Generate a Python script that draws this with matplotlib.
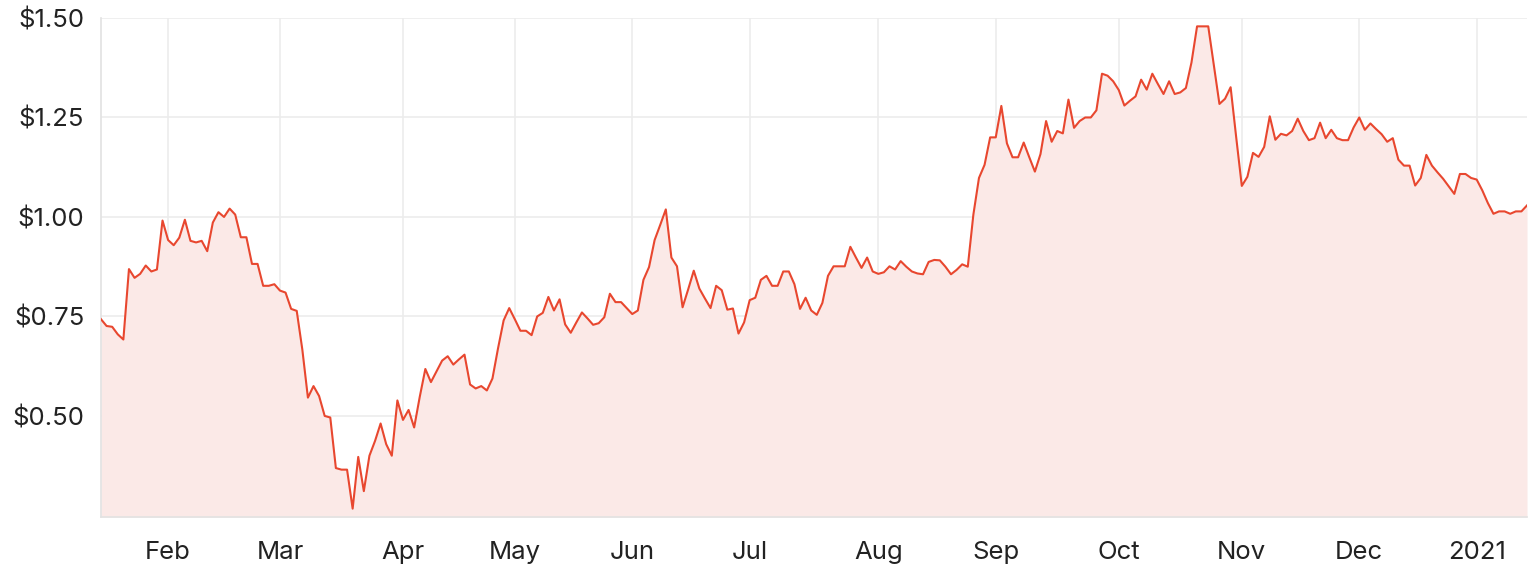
import numpy as np
import pandas as pd
import matplotlib
matplotlib.use("Agg")
import matplotlib.pyplot as plt

# trading days (ASX), 15 Jan 2020 -> 15 Jan 2021
holidays = ["2020-01-27", "2020-04-10", "2020-04-13", "2020-06-08",
            "2020-12-25", "2020-12-28", "2021-01-01"]
dates = pd.bdate_range("2020-01-15", "2021-01-15")
dates = dates[~dates.isin(pd.to_datetime(holidays))]

# closing prices
price = [
    0.743, 0.726, 0.724, 0.705, 0.692, 0.869, 0.847, 0.857, 0.878, 0.863,
    0.868, 0.991, 0.942, 0.929, 0.948, 0.993, 0.940, 0.936, 0.940, 0.914,
    0.986, 1.012, 1.000, 1.021, 1.006, 0.949, 0.949, 0.882, 0.882, 0.827,
    0.827, 0.831, 0.815, 0.810, 0.769, 0.764, 0.667, 0.546, 0.575, 0.550,
    0.500, 0.496, 0.369, 0.365, 0.365, 0.267, 0.397, 0.311, 0.400, 0.437,
    0.481, 0.429, 0.400, 0.539, 0.490, 0.515, 0.471, 0.548, 0.618, 0.585,
    0.612, 0.639, 0.650, 0.629, 0.642, 0.654, 0.579, 0.569, 0.575, 0.564,
    0.594, 0.670, 0.740, 0.771, 0.743, 0.714, 0.714, 0.703, 0.750, 0.759,
    0.799, 0.765, 0.793, 0.730, 0.709, 0.735, 0.760, 0.745, 0.729, 0.733,
    0.748, 0.807, 0.786, 0.786, 0.771, 0.756, 0.765, 0.842, 0.874, 0.942,
    0.980, 1.019, 0.898, 0.876, 0.773, 0.818, 0.865, 0.820, 0.795, 0.771,
    0.827, 0.816, 0.767, 0.770, 0.707, 0.735, 0.791, 0.797, 0.842, 0.852,
    0.827, 0.827, 0.863, 0.863, 0.831, 0.769, 0.797, 0.765, 0.754, 0.784,
    0.852, 0.876, 0.876, 0.876, 0.925, 0.898, 0.872, 0.898, 0.863, 0.857,
    0.861, 0.876, 0.868, 0.889, 0.875, 0.863, 0.858, 0.856, 0.887, 0.892,
    0.891, 0.875, 0.856, 0.867, 0.881, 0.875, 1.006, 1.098, 1.131, 1.200,
    1.200, 1.279, 1.185, 1.150, 1.150, 1.187, 1.150, 1.114, 1.158, 1.241,
    1.189, 1.216, 1.210, 1.295, 1.224, 1.241, 1.250, 1.250, 1.268, 1.360,
    1.355, 1.341, 1.319, 1.280, 1.292, 1.303, 1.345, 1.320, 1.360, 1.334,
    1.309, 1.341, 1.309, 1.313, 1.324, 1.388, 1.479, 1.479, 1.479, 1.382,
    1.284, 1.297, 1.326, 1.200, 1.078, 1.101, 1.161, 1.151, 1.176, 1.253,
    1.194, 1.209, 1.205, 1.216, 1.247, 1.216, 1.193, 1.198, 1.237, 1.198,
    1.219, 1.198, 1.193, 1.193, 1.225, 1.250, 1.219, 1.235, 1.221, 1.208,
    1.189, 1.198, 1.144, 1.129, 1.129, 1.079, 1.098, 1.156, 1.129, 1.112,
    1.096, 1.077, 1.058, 1.108, 1.108, 1.098, 1.094, 1.067, 1.035, 1.008,
    1.014, 1.014, 1.008, 1.014, 1.014, 1.029,
]

month_labels = ["Feb", "Mar", "Apr", "May", "Jun", "Jul", "Aug", "Sep",
                "Oct", "Nov", "Dec", "2021"]
y_ticks = [0.50, 0.75, 1.00, 1.25, 1.50]

x = np.arange(len(dates))
# first trading day of each month (skip the partial January at the start)
first_days = pd.Series(x, index=dates).groupby([dates.year, dates.month]).first().values[1:]

line_col = "#e8472f"
fill_col = "#fbe9e7"
grid_col = "#ececec"
text_col = "#222222"
y_bottom = 0.246

fig = plt.figure(figsize=(15.36, 5.74), dpi=100)
ax = fig.add_axes([101 / 1536, 1 - 517 / 574, 1426 / 1536, 499 / 574])

ax.fill_between(x, price, y_bottom, color=fill_col, linewidth=0, zorder=2)
ax.plot(x, price, color=line_col, linewidth=1.5, zorder=3)

ax.set_xlim(0, len(x) - 1)
ax.set_ylim(y_bottom, 1.5)
ax.set_xticks(first_days)
ax.set_xticklabels(month_labels)
ax.set_yticks(y_ticks)
ax.set_yticklabels(["${:.2f}".format(v) for v in y_ticks])

ax.grid(True, color=grid_col, linewidth=1.2, zorder=1)
ax.set_axisbelow(True)
for side in ["top", "right"]:
    ax.spines[side].set_visible(False)
for side in ["left", "bottom"]:
    ax.spines[side].set_color("#e2e2e2")
    ax.spines[side].set_linewidth(1.2)

ax.tick_params(axis="both", length=0, labelsize=18.5, colors=text_col)
ax.tick_params(axis="x", pad=17)
ax.tick_params(axis="y", pad=12)
for lab in ax.get_xticklabels() + ax.get_yticklabels():
    lab.set_family(["Inter", "DejaVu Sans"])

fig.savefig("out.png", dpi=100)
